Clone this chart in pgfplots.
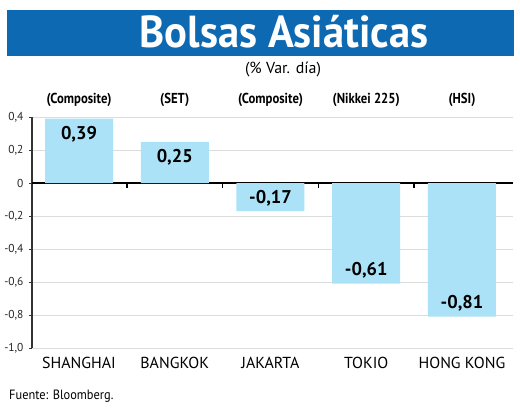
\documentclass[border=0pt]{standalone}
\usepackage{pgfplots}
\pgfplotsset{compat=1.18}
\usepackage{pgfplotstable}
\usepackage{fontspec}
\setmainfont{PT Sans}
\definecolor{titleblue}{HTML}{0E69B3}
\definecolor{barblue}{HTML}{ABE2F7}
\definecolor{gridgray}{HTML}{DCDCDC}
\pgfplotstableread{
x y lab
0 0.39 {0,39}
1 0.25 {0,25}
}\pos
\pgfplotstableread{
x y lab
2 -0.17 {-0,17}
3 -0.61 {-0,61}
4 -0.81 {-0,81}
}\negv
\begin{document}
\begin{tikzpicture}[x=1bp,y=1bp]
\path[use as bounding box] (0,0) rectangle (520,409);
\fill[titleblue] (7,353) rectangle (514,399);
\node[text=white,font=\bfseries\fontsize{45}{48}\selectfont] at (284,377) {\scalebox{0.95}[1]{Bolsas Asiáticas}};
\node[font=\fontsize{16}{18}\selectfont] at (283,339) {(\% Var. día)};
\node[anchor=west,font=\fontsize{13.5}{15}\selectfont,inner sep=0] at (9,13) {\scalebox{0.92}[1]{Fuente: Bloomberg.}};
\begin{axis}[
  at={(32bp,61bp)}, anchor=south west,
  scale only axis, width=481bp, height=231bp,
  xmin=-0.491, xmax=4.533, ymin=-1, ymax=0.4,
  clip=false,
  axis lines*=left,
  x axis line style={draw=none},
  y axis line style={draw=black!80, line width=1.1bp, -},
  xtick={0,1,2,3,4},
  xticklabels={SHANGHAI,BANGKOK,JAKARTA,TOKIO,HONG KONG},
  x tick style={draw=none},
  x tick label style={font=\fontsize{16}{18}\selectfont, yshift=-3bp},
  ytick={-1,-0.8,-0.6,-0.4,-0.2,0,0.2,0.4},
  yticklabels={{-1,0},{-0,8},{-0,6},{-0,4},{-0,2},0,{0,2},{0,4}},
  y tick label style={font=\fontsize{11.5}{13}\selectfont, text=black!85, xshift=-2bp},
  y tick style={draw=black!80, line width=0.8bp},
  tick align=outside, major tick length=3bp,
  ymajorgrids, grid style={gridgray, line width=0.8bp},
  /pgf/number format/assume math mode=true,
]
\draw[black, line width=1.4bp] (axis cs:-0.491,0) -- (axis cs:4.533,0);
\pgfplotsinvokeforeach{0.5,1.5,2.5,3.5}{
  \draw[black, line width=1.4bp] (axis cs:#1,0) -- ([yshift=-5bp]axis cs:#1,0);
}
\addplot[ybar, fill=barblue, draw=none, bar width=68bp, bar shift=0pt,
  point meta=explicit symbolic, nodes near coords,
  every node near coord/.append style={anchor=north, inner sep=0pt, yshift=-7bp,
    font=\bfseries\fontsize{18.5}{20}\selectfont, text=black}]
  table[x=x, y=y, meta=lab] {\pos};
\addplot[ybar, fill=barblue, draw=none, bar width=68bp, bar shift=0pt,
  point meta=explicit symbolic, nodes near coords,
  every node near coord/.append style={anchor=south, inner sep=0pt, yshift=5bp,
    font=\bfseries\fontsize{18.5}{20}\selectfont, text=black}]
  table[x=x, y=y, meta=lab] {\negv};
\node[font=\bfseries\fontsize{14.5}{16}\selectfont, yshift=17bp] at (axis cs:0,0.4) {\scalebox{0.88}[1]{(Composite)}};
\node[font=\bfseries\fontsize{14.5}{16}\selectfont, yshift=17bp] at (axis cs:1,0.4) {\scalebox{0.88}[1]{(SET)}};
\node[font=\bfseries\fontsize{14.5}{16}\selectfont, yshift=17bp] at (axis cs:2,0.4) {\scalebox{0.88}[1]{(Composite)}};
\node[font=\bfseries\fontsize{14.5}{16}\selectfont, yshift=17bp] at (axis cs:3,0.4) {\scalebox{0.88}[1]{(Nikkei 225)}};
\node[font=\bfseries\fontsize{14.5}{16}\selectfont, yshift=17bp] at (axis cs:4,0.4) {\scalebox{0.88}[1]{(HSI)}};
\end{axis}
\end{tikzpicture}
\end{document}
